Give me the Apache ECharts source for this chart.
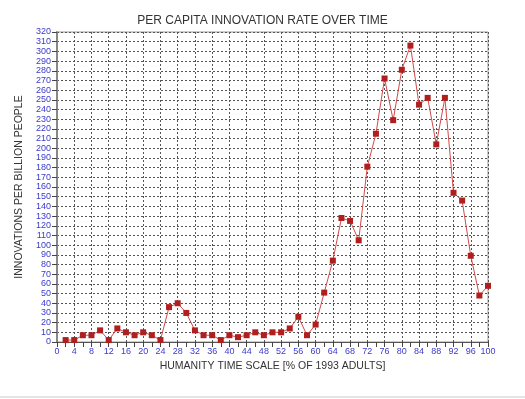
<!DOCTYPE html>
<html>
<head>
<meta charset="utf-8">
<script src="https://cdn.jsdelivr.net/npm/echarts@6/dist/echarts.min.js"></script>
<style>
  html, body { margin: 0; padding: 0; background: #fff; }
  #chart { width: 525px; height: 399px; }
</style>
</head>
<body>
<div id="chart"></div>
<script>
// humanity time scale (% of 1993 adults)
const timeScale = [2, 4, 6, 8, 10, 12, 14, 16, 18, 20, 22, 24, 26, 28, 30, 32, 34, 36, 38, 40,
  42, 44, 46, 48, 50, 52, 54, 56, 58, 60, 62, 64, 66, 68, 70, 72, 74, 76, 78, 80,
  82, 84, 86, 88, 90, 92, 94, 96, 98, 100]
// innovations per billion people
const innovationRate = [2, 2, 7, 7, 12, 2, 14, 10, 7, 10, 7, 2, 36, 40, 30, 12, 7, 7, 2, 7,
  5, 7, 10, 7, 10, 10, 14, 26, 7, 18, 51, 84, 128, 125, 105, 181, 215, 272, 229, 281,
  306, 245, 252, 204, 252, 154, 146, 89, 48, 58]

const labelBlue = '#3a3acc'
const font = 'Liberation Sans, Arial, sans-serif'

const chart = echarts.init(document.getElementById('chart'))

chart.setOption({
  animation: false,
  title: {
    text: 'PER CAPITA INNOVATION RATE OVER TIME',
    left: 'center',
    top: 10,
    textStyle: { color: '#333', fontSize: 12, fontWeight: 'normal', fontFamily: font }
  },
  grid: {
    left: 57,
    right: 37,
    top: 32,
    bottom: 57,
    show: true,
    borderColor: '#999',
    borderWidth: 1
  },
  xAxis: {
    type: 'value',
    min: 0,
    max: 100,
    interval: 4,
    name: 'HUMANITY TIME SCALE [% OF 1993 ADULTS]',
    nameLocation: 'middle',
    nameGap: 19,
    nameTextStyle: { color: '#333', fontSize: 10.5, fontFamily: font },
    axisLine: { onZero: false, lineStyle: { color: '#555', width: 1 } },
    axisTick: { length: 5, lineStyle: { color: '#444' } },
    minorTick: { show: true, splitNumber: 2, length: 5, lineStyle: { color: '#444' } },
    axisLabel: { color: labelBlue, fontSize: 9, margin: 5, fontFamily: font },
    splitLine: { show: true, lineStyle: { color: '#555', type: [2, 2], width: 1 } }
  },
  yAxis: {
    type: 'value',
    min: 0,
    max: 320,
    interval: 10,
    name: 'INNOVATIONS PER BILLION PEOPLE',
    nameLocation: 'middle',
    nameGap: 31,
    nameTextStyle: { color: '#333', fontSize: 10.5, fontFamily: font },
    axisLine: { show: true, lineStyle: { color: '#888', width: 2 } },
    axisTick: { show: true, length: 5, lineStyle: { color: '#444' } },
    axisLabel: { color: labelBlue, fontSize: 9, margin: 6, fontFamily: font },
    splitLine: { show: true, lineStyle: { color: '#555', type: [2, 2], width: 1 } }
  },
  series: [
    {
      type: 'line',
      data: timeScale.map((t, i) => [t, innovationRate[i]]),
      symbol: 'rect',
      symbolSize: 6,
      itemStyle: { color: '#b01e1e' },
      lineStyle: { color: '#d24a4a', width: 1 }
    }
  ],
  graphic: [
    {
      type: 'rect',
      left: 0,
      top: 396,
      shape: { width: 525, height: 2 },
      style: { fill: '#e4e4e4' }
    }
  ]
})
</script>
</body>
</html>
